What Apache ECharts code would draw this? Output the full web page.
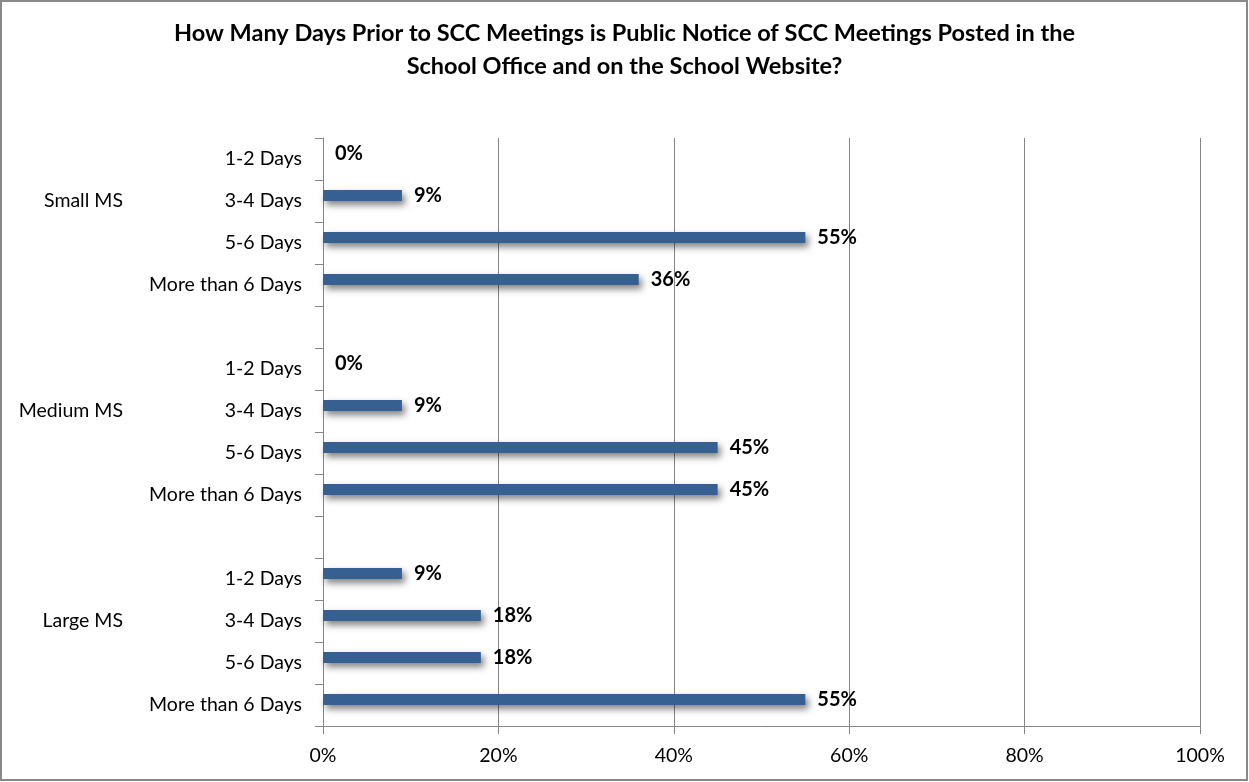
<!DOCTYPE html>
<html>
<head>
<meta charset="utf-8">
<title>Public Notice of SCC Meetings</title>
<script src="https://cdn.jsdelivr.net/npm/echarts@6/dist/echarts.min.js"></script>
<style>
  html, body { margin: 0; padding: 0; background: #ffffff; }
  #chart { width: 1249px; height: 782px; }
</style>
</head>
<body>
<div id="chart"></div>
<script>
// Survey answers per school size, in percent of respondents
const groups = ['Small MS', 'Medium MS', 'Large MS'];
const dayOptions = ['1-2 Days', '3-4 Days', '5-6 Days', 'More than 6 Days'];
const smallMS = [0, 9, 55, 36];
const mediumMS = [0, 9, 45, 45];
const largeMS = [9, 18, 18, 55];
const xTicks = [0, 20, 40, 60, 80, 100];

const FONT = 'Lato, "Open Sans", sans-serif';

// One row per answer, with an empty row separating the groups
const groupValues = [smallMS, mediumMS, largeMS];
const rowLabels = [];
const rowGroups = [];
const rowValues = [];
groupValues.forEach((vals, g) => {
  if (g > 0) { rowLabels.push(''); rowGroups.push(''); rowValues.push('-'); }
  dayOptions.forEach((d, i) => {
    rowLabels.push(d);
    rowGroups.push(i === 1 ? groups[g] : '');
    rowValues.push(vals[i]);
  });
});
const rowKeys = rowLabels.map((_, i) => 'r' + i);

const chart = echarts.init(document.getElementById('chart'), null, { renderer: 'canvas' });

chart.setOption({
  backgroundColor: '#ffffff',
  animation: false,
  title: {
    text: 'How Many Days Prior to SCC Meetings is Public Notice of SCC Meetings Posted in the\nSchool Office and on the School Website?',
    left: 'center',
    top: 12,
    textStyle: {
      fontFamily: FONT,
      fontSize: 23.5,
      fontWeight: 'bold',
      color: '#000000',
      lineHeight: 33
    }
  },
  grid: { left: 323, right: 49, top: 138, bottom: 56, containLabel: false },
  xAxis: {
    type: 'value',
    min: 0,
    max: 100,
    interval: 20,
    axisLine: { show: true, lineStyle: { color: '#868686', width: 1 } },
    axisTick: { show: true, length: 8, lineStyle: { color: '#868686' } },
    splitLine: { show: true, lineStyle: { color: '#868686', width: 1 } },
    axisLabel: {
      margin: 20,
      fontFamily: FONT,
      fontSize: 19.5,
      color: '#000000',
      formatter: v => (xTicks.indexOf(v) >= 0 ? v + '%' : '')
    }
  },
  yAxis: [
    {
      type: 'category',
      inverse: true,
      data: rowKeys,
      axisLine: { show: true, lineStyle: { color: '#868686', width: 1 } },
      axisTick: { show: true, length: 8, inside: false, lineStyle: { color: '#868686' } },
      axisLabel: {
        margin: 21,
        fontFamily: FONT,
        fontSize: 19.5,
        color: '#000000',
        interval: 0,
        formatter: (v, i) => rowLabels[i]
      }
    },
    {
      type: 'category',
      inverse: true,
      position: 'left',
      data: rowKeys,
      axisLine: { show: false },
      axisTick: { show: false },
      axisLabel: {
        margin: 200,
        fontFamily: FONT,
        fontSize: 19.5,
        color: '#000000',
        interval: 0,
        formatter: (v, i) => rowGroups[i]
      }
    }
  ],
  series: [
    {
      type: 'bar',
      data: rowValues,
      barWidth: 11,
      barGap: '0%',
      itemStyle: {
        color: '#376092',
        shadowColor: 'rgba(0,0,0,0.5)',
        shadowBlur: 7,
        shadowOffsetX: 3,
        shadowOffsetY: 4
      },
      label: {
        show: true,
        position: 'right',
        distance: 12,
        fontFamily: FONT,
        fontSize: 20,
        fontWeight: 'bold',
        color: '#000000',
        formatter: p => p.value + '%'
      }
    },
    {
      // empty companion series that keeps each bar above the row centre
      type: 'bar',
      data: rowValues.map(() => '-'),
      barWidth: 11,
      barGap: '0%',
      silent: true
    }
  ],
  graphic: [
    {
      type: 'rect',
      shape: { x: 1, y: 1, width: 1246, height: 779 },
      style: { fill: 'none', stroke: '#898989', lineWidth: 2 },
      silent: true
    }
  ]
});
</script>
</body>
</html>
